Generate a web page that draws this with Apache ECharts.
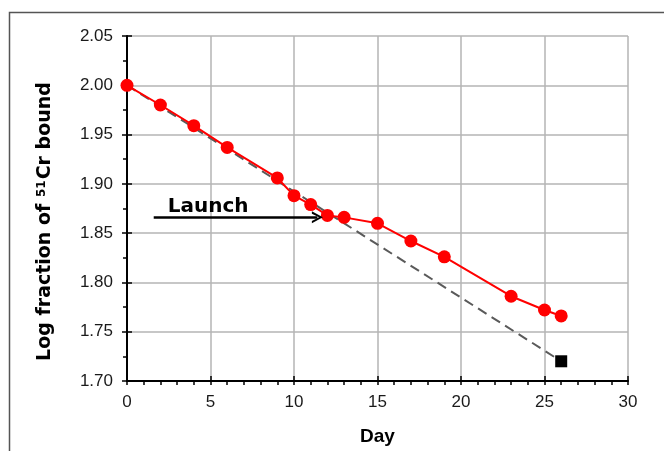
<!DOCTYPE html>
<html><head><meta charset="utf-8">
<script src="https://cdn.jsdelivr.net/npm/echarts@6/dist/echarts.min.js"></script>
<style>html,body{margin:0;padding:0;background:#fff}#c{width:664px;height:451px}</style>
</head><body><div id="c"></div>
<script>
// ---- data ----
const days = [0, 2, 4, 6, 9, 10, 11, 12, 13, 15, 17, 19, 23, 25, 26];
const logFraction = [2.000, 1.980, 1.959, 1.937, 1.906, 1.888, 1.879, 1.868, 1.866, 1.860, 1.842, 1.826, 1.786, 1.772, 1.766];
const projDays = [0, 26];
const projValues = [2.000, 1.720];
const launchArrowDays = [1.6, 11.4];
const launchArrowValue = 1.866;
const launchText = 'Launch';
const xTickLabels = ['0', '5', '10', '15', '20', '25', '30'];
const yTickLabels = ['1.70', '1.75', '1.80', '1.85', '1.90', '1.95', '2.00', '2.05'];
const xName = 'Day';

const FONT = '"Liberation Sans", Arial, sans-serif';
const WIDE = '"DejaVu Sans", "Liberation Sans", sans-serif';
const xMin = Number(xTickLabels[0]), xMax = Number(xTickLabels[xTickLabels.length - 1]);
const xStep = Number(xTickLabels[1]) - xMin;
const yMin = Number(yTickLabels[0]), yMax = Number(yTickLabels[yTickLabels.length - 1]);
const yStep = 0.05;

const chart = echarts.init(document.getElementById('c'), null, {renderer: 'canvas'});

const axisCommonTick = {show: true, inside: true, length: 5, lineStyle: {color: '#000', width: 1.5}};

const option = {
  backgroundColor: '#fff',
  animation: false,
  graphic: [{
    type: 'rect', shape: {x: 9.5, y: 12.5, width: 800, height: 600},
    style: {fill: 'none', stroke: '#555', lineWidth: 1.5}, silent: true, z: -1
  }],
  grid: {left: 127, right: 36, top: 36, bottom: 62, containLabel: false},
  xAxis: [{
    type: 'value', min: xMin, max: xMax, interval: xStep,
    name: xName, nameLocation: 'middle', nameGap: 46,
    nameTextStyle: {fontFamily: FONT, fontSize: 19, fontWeight: 'bold', color: '#000'},
    axisLine: {show: true, onZero: false, lineStyle: {color: '#000', width: 2}},
    axisTick: {show: true, length: 4, lineStyle: {color: '#000', width: 1.5}},
    minorTick: {show: true, splitNumber: 5, length: 4, lineStyle: {color: '#000', width: 1.5}},
    axisLabel: {fontFamily: FONT, fontSize: 17, color: '#1a1a1a', margin: 13,
      formatter: v => xTickLabels[Math.round((v - xMin) / xStep)] ?? ''},
    splitLine: {show: true, lineStyle: {color: '#b4b4b4', width: 1.5}}
  }, {
    type: 'value', min: xMin, max: xMax, interval: xStep, position: 'bottom',
    axisLine: {show: false}, axisTick: axisCommonTick, axisLabel: {show: false}, splitLine: {show: false}
  }],
  yAxis: [{
    type: 'value', min: yMin, max: yMax, interval: yStep,
    name: '{a|Log fraction of }{s|51}{a|Cr bound}', nameLocation: 'middle', nameGap: 72, nameRotate: 90,
    nameTextStyle: {
      fontFamily: WIDE, fontSize: 19, fontWeight: 'bold', color: '#000', padding: [0, 26, 0, 0],
      rich: {
        a: {fontFamily: WIDE, fontSize: 19, fontWeight: 'bold', color: '#000'},
        s: {fontFamily: WIDE, fontSize: 12, fontWeight: 'bold', color: '#000', verticalAlign: 'top', padding: [0, 1, 6, 0]}
      }
    },
    axisLine: {show: true, onZero: false, lineStyle: {color: '#000', width: 2}},
    axisTick: {show: true, length: 5, lineStyle: {color: '#000', width: 1.5}},
    minorTick: {show: true, splitNumber: 2, length: 4, lineStyle: {color: '#000', width: 1.5}},
    axisLabel: {fontFamily: FONT, fontSize: 17, color: '#1a1a1a', margin: 14,
      formatter: v => yTickLabels[Math.round((v - yMin) / yStep)] ?? ''},
    splitLine: {show: true, lineStyle: {color: '#b4b4b4', width: 1.5}}
  }, {
    type: 'value', min: yMin, max: yMax, interval: yStep, position: 'left',
    axisLine: {show: false}, axisTick: axisCommonTick, axisLabel: {show: false}, splitLine: {show: false}
  }],
  series: [{
    type: 'line', name: 'projection', xAxisIndex: 0, yAxisIndex: 0, z: 2,
    data: projDays.map((d, i) => ({
      value: [d, projValues[i]],
      symbol: i === projDays.length - 1 ? 'rect' : 'none',
      symbolSize: 12
    })),
    lineStyle: {color: '#5a5a5a', width: 2, type: [10, 6]},
    itemStyle: {color: '#000'},
    markLine: {
      silent: true, symbol: ['none', 'path://M0,10 L5,0 L10,10 L8,10 L5,3.5 L2,10 Z'], symbolSize: [12, 11],
      lineStyle: {color: '#000', width: 2.5, type: 'solid'},
      label: {show: true, position: 'insideStartTop', formatter: launchText, distance: [14, 1],
        fontFamily: WIDE, fontSize: 20, fontWeight: 'bold', color: '#000'},
      data: [[{coord: [launchArrowDays[0], launchArrowValue]}, {coord: [launchArrowDays[1], launchArrowValue]}]]
    }
  }, {
    type: 'line', name: 'bound', xAxisIndex: 0, yAxisIndex: 0, z: 3,
    data: days.map((d, i) => [d, logFraction[i]]),
    symbol: 'circle', symbolSize: 13, showSymbol: true,
    lineStyle: {color: '#ff0000', width: 2},
    itemStyle: {color: '#ff0000'}
  }]
};
chart.setOption(option);
</script>
</body></html>
